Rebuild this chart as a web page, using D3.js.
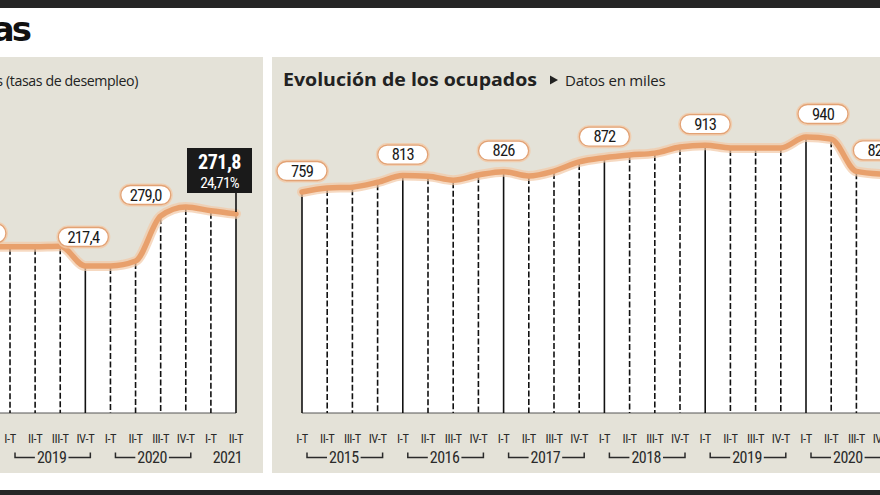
<!DOCTYPE html>
<html>
<head>
<meta charset="utf-8">
<script src="https://cdn.jsdelivr.net/npm/d3@7"></script>
<style>
  html, body { margin: 0; padding: 0; background: #ffffff; }
  svg { display: block; }
</style>
</head>
<body>
<svg id="chart" width="880" height="495"></svg>
<script>
// ---------------- DATA ----------------
// Left panel: unemployed (thousands)
const leftKeys   = ["2018-IV","2019-I","2019-II","2019-III","2019-IV","2020-I","2020-II","2020-III","2020-IV","2021-I","2021-II"];
const leftTicks  = ["IV-T","I-T","II-T","III-T","IV-T","I-T","II-T","III-T","IV-T","I-T","II-T"];
const leftValues = [237.0, 237.5, 237.5, 238.0, 217.4, 217.5, 222.6, 269.6, 279.0, 275.0, 271.8];
const leftSolid  = ["2018-IV","2019-IV","2021-II"];
const leftLabels = [
  {key:"2018-IV", text:"237,0"},
  {key:"2019-IV", text:"217,4"},
  {key:"2020-IV", text:"279,0"}
];
const leftHighlight = {key:"2021-II", value:"271,8", rate:"24,71%"};
const leftYears = [
  {year:"2019", from:"2019-I", to:"2019-IV", bracket:true},
  {year:"2020", from:"2020-I", to:"2020-IV", bracket:true},
  {year:"2021", from:"2021-I", to:"2021-II", bracket:false}
];
const leftSubtitle = "Evolución de los parados  Datos en miles (tasas de desempleo)";

// Right panel: employed (thousands)
const rightKeys = ["2015-I","2015-II","2015-III","2015-IV","2016-I","2016-II","2016-III","2016-IV",
                   "2017-I","2017-II","2017-III","2017-IV","2018-I","2018-II","2018-III","2018-IV",
                   "2019-I","2019-II","2019-III","2019-IV","2020-I","2020-II","2020-III","2020-IV"];
const rightTicks = ["I-T","II-T","III-T","IV-T","I-T","II-T","III-T","IV-T",
                    "I-T","II-T","III-T","IV-T","I-T","II-T","III-T","IV-T",
                    "I-T","II-T","III-T","IV-T","I-T","II-T","III-T","IV-T"];
const rightValues = [759, 772, 775, 791, 813, 811, 798, 815,
                     826, 812, 828, 858, 872, 881, 887, 907,
                     913, 904, 904, 904, 940, 933, 827, 818];
const rightSolid = ["2015-I","2016-I","2017-I","2018-I","2019-I","2020-I"];
const rightLabels = [
  {key:"2015-I", text:"759"},
  {key:"2016-I", text:"813"},
  {key:"2017-I", text:"826"},
  {key:"2018-I", text:"872"},
  {key:"2019-I", text:"913"},
  {key:"2020-I", text:"940"},
  {key:"2020-III", text:"827"}
];
const rightYears = [
  {year:"2015", from:"2015-I", to:"2015-IV", bracket:true},
  {year:"2016", from:"2016-I", to:"2016-IV", bracket:true},
  {year:"2017", from:"2017-I", to:"2017-IV", bracket:true},
  {year:"2018", from:"2018-I", to:"2018-IV", bracket:true},
  {year:"2019", from:"2019-I", to:"2019-IV", bracket:true},
  {year:"2020", from:"2020-I", to:"2020-IV", bracket:true}
];
const rightTitle = "Evolución de los ocupados";
const rightSubtitle = "Datos en miles";
const pageTitle = "Canarias en cifras";

// ---------------- STYLE ----------------
const C = {
  panel: "#e4e2d8", line: "#e8a06c", glow: "#f2c9a6", ink: "#1e1e1e",
  labelStroke: "#e2a275", dark: "#262626"
};
const numFont = "'Roboto Condensed','Liberation Sans Narrow','DejaVu Sans Condensed',Roboto,sans-serif";
const txtFont = "'Open Sans',Roboto,sans-serif";
const baseY = 413;

const svg = d3.select("#chart");

// frame bars
svg.append("rect").attr("x",0).attr("y",0).attr("width",880).attr("height",8).attr("fill",C.dark);
svg.append("rect").attr("x",0).attr("y",490).attr("width",880).attr("height",5).attr("fill",C.dark);

// page title (clipped at left, as in the source crop)
svg.append("text").attr("x",29).attr("y",41).attr("text-anchor","end")
  .attr("font-family","'DejaVu Sans',sans-serif").attr("font-weight",900)
  .attr("font-size",34).attr("letter-spacing",-3).attr("fill","#111").text(pageTitle);

// panels
svg.append("rect").attr("x",-10).attr("y",57).attr("width",273).attr("height",416).attr("fill",C.panel);
svg.append("rect").attr("x",272).attr("y",57).attr("width",620).attr("height",416).attr("fill",C.panel);

// scales
const xL = d3.scalePoint().domain(leftKeys).range([-15.1, 236]);
const yL = d3.scaleLinear().domain([64, 279]).range([baseY, 207]);
const xR = d3.scalePoint().domain(rightKeys).range([302, 881.6]);
const yR = d3.scaleLinear().domain([32, 940]).range([baseY, 137]);

function drawPanel(g, keys, values, ticks, solid, x, y, years) {
  const data = keys.map((k,i)=>({key:k, value:values[i], tick:ticks[i]}));
  const curve = d3.curveMonotoneX;
  const area = d3.area().x(d=>x(d.key)).y0(baseY).y1(d=>y(d.value)).curve(curve);
  const line = d3.line().x(d=>x(d.key)).y(d=>y(d.value)).curve(curve);

  g.append("path").datum(data).attr("d",area).attr("fill","#ffffff");
  // baseline
  g.append("line").attr("x1",x(keys[0])).attr("x2",x(keys[keys.length-1]))
    .attr("y1",baseY).attr("y2",baseY).attr("stroke","#555").attr("stroke-width",1);
  // verticals
  g.selectAll("line.v").data(data).join("line").attr("class","v")
    .attr("x1",d=>x(d.key)).attr("x2",d=>x(d.key))
    .attr("y1",d=>y(d.value)+2).attr("y2",baseY)
    .attr("stroke","#111").attr("stroke-width",1.6)
    .attr("stroke-dasharray",d=>solid.includes(d.key)?null:"6,2.5");
  // line glow + line
  g.append("path").datum(data).attr("d",line).attr("fill","none")
    .attr("stroke",C.glow).attr("stroke-width",10).attr("stroke-opacity",0.7).attr("stroke-linecap","round");
  g.append("path").datum(data).attr("d",line).attr("fill","none")
    .attr("stroke",C.line).attr("stroke-width",5.5).attr("stroke-linecap","round");

  // tick labels (only those inside the visible area)
  g.selectAll("text.tick").data(data.filter(d=>x(d.key)>0)).join("text").attr("class","tick")
    .attr("x",d=>x(d.key)).attr("y",443).attr("text-anchor","middle")
    .attr("font-family",numFont).attr("font-size",12.5).attr("letter-spacing",-0.4)
    .attr("fill","#2a2a2a").text(d=>d.tick);

  // years with brackets
  years.forEach(yr=>{
    const x0 = x(yr.from), x1 = x(yr.to);
    const cx = (x0+x1)/2 + 4;
    const t = g.append("text").attr("x",cx).attr("y",463).attr("text-anchor","middle")
      .attr("font-family",numFont).attr("font-size",16).attr("letter-spacing",-0.5)
      .attr("fill","#2a2a2a").text(yr.year);
    if (yr.bracket) {
      const w = t.node().getComputedTextLength();
      const a = x0+5, b = x1+5;
      const path = d3.path();
      path.moveTo(a,452.5); path.lineTo(a,457.5); path.lineTo(cx-w/2-2,457.5);
      path.moveTo(cx+w/2+2,457.5); path.lineTo(b,457.5); path.lineTo(b,452.5);
      g.append("path").attr("d",path.toString()).attr("fill","none")
        .attr("stroke","#2a2a2a").attr("stroke-width",1.5);
    }
  });
}

function drawLabel(g, cx, cy, text) {
  const w = 50, h = 19;
  g.append("rect").attr("x",cx-w/2).attr("y",cy-h/2).attr("width",w).attr("height",h)
    .attr("rx",9.5).attr("fill","none").attr("stroke",C.glow).attr("stroke-width",4).attr("stroke-opacity",0.8);
  g.append("rect").attr("x",cx-w/2).attr("y",cy-h/2).attr("width",w).attr("height",h)
    .attr("rx",9.5).attr("fill","#ffffff").attr("stroke",C.labelStroke).attr("stroke-width",1.3);
  g.append("text").attr("x",cx).attr("y",cy+5.8).attr("text-anchor","middle")
    .attr("font-family",numFont).attr("font-size",16.5).attr("letter-spacing",-0.8)
    .attr("fill","#1a1a1a").text(text);
}

// ---------- LEFT PANEL ----------
const gL = svg.append("g");
gL.append("text").attr("x",138).attr("y",86).attr("text-anchor","end")
  .attr("font-family",txtFont).attr("font-size",14.2).attr("letter-spacing",-0.4)
  .attr("fill","#222").text(leftSubtitle);
drawPanel(gL, leftKeys, leftValues, leftTicks, leftSolid, xL, yL, leftYears);
const leftOffsets = {"2018-IV":[-4,-14], "2019-IV":[-2,-29], "2020-IV":[-40,-12]};
leftLabels.forEach(l=>{
  const i = leftKeys.indexOf(l.key);
  const o = leftOffsets[l.key];
  drawLabel(gL, xL(l.key)+o[0], yL(leftValues[i])+o[1], l.text);
});
// highlighted last value box
{
  const i = leftKeys.indexOf(leftHighlight.key);
  const px = xL(leftHighlight.key);
  const bx = px-49, by = 148, bw = 65, bh = 45;
  gL.append("line").attr("x1",px).attr("x2",px).attr("y1",by+bh).attr("y2",yL(leftValues[i])-2)
    .attr("stroke","#111").attr("stroke-width",1.6);
  gL.append("rect").attr("x",bx).attr("y",by).attr("width",bw).attr("height",bh).attr("fill","#1a1a1a");
  gL.append("text").attr("x",bx+bw/2).attr("y",by+21).attr("text-anchor","middle")
    .attr("font-family",numFont).attr("font-size",20).attr("font-weight",700).attr("letter-spacing",-0.5)
    .attr("fill","#ffffff").text(leftHighlight.value);
  gL.append("text").attr("x",bx+bw/2).attr("y",by+40).attr("text-anchor","middle")
    .attr("font-family",numFont).attr("font-size",15.5).attr("letter-spacing",-0.8)
    .attr("fill","#ffffff").text(leftHighlight.rate);
}

// ---------- RIGHT PANEL ----------
const gR = svg.append("g");
gR.append("text").attr("x",283).attr("y",86)
  .attr("font-family",txtFont).attr("font-size",18.5).attr("font-weight",700)
  .attr("textLength",254).attr("lengthAdjust","spacingAndGlyphs")
  .attr("fill","#222").text(rightTitle);
gR.append("path").attr("d","M550,75.5L558,80L550,84.5Z").attr("fill","#222");
gR.append("text").attr("x",565).attr("y",86)
  .attr("font-family",txtFont).attr("font-size",15).attr("letter-spacing",-0.2)
  .attr("fill","#222").text(rightSubtitle);
drawPanel(gR, rightKeys, rightValues, rightTicks, rightSolid, xR, yR, rightYears);
const rightOffsets = {"2020-I":[17,-23], "2020-III":[22,-21]};
rightLabels.forEach(l=>{
  const i = rightKeys.indexOf(l.key);
  const o = rightOffsets[l.key] || [0,-21];
  drawLabel(gR, xR(l.key)+o[0], yR(rightValues[i])+o[1], l.text);
});
</script>
</body>
</html>
